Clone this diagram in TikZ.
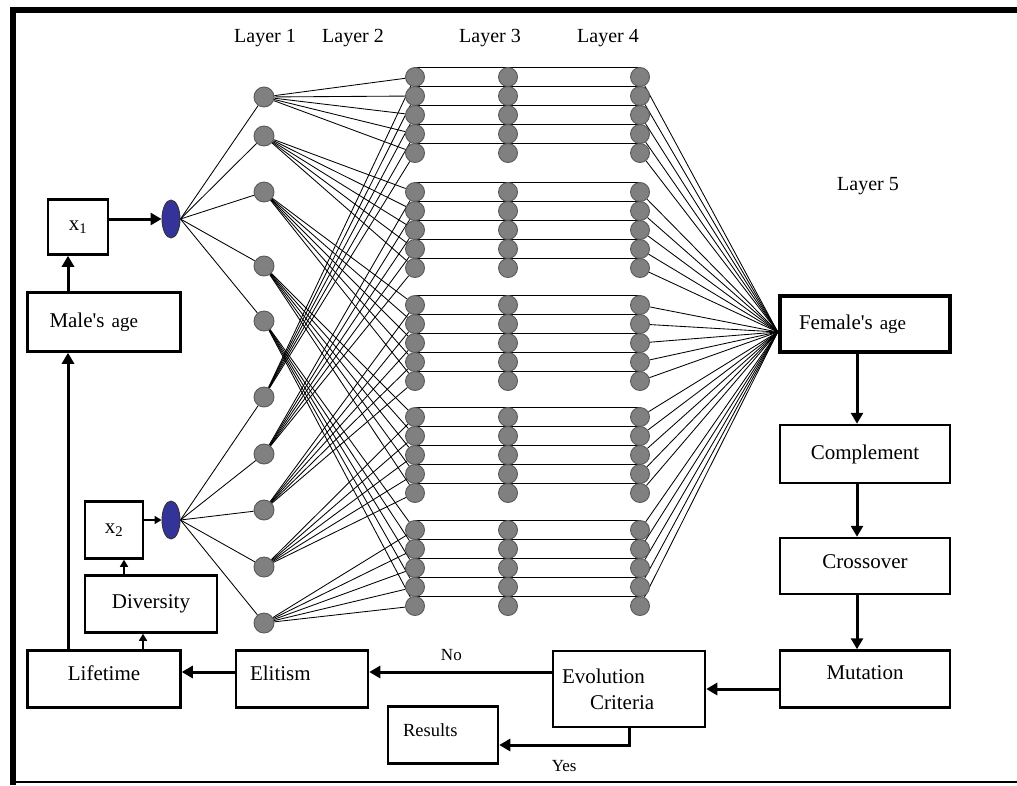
\documentclass[tikz,border=0pt]{standalone}
\usepackage{fontspec}
\setmainfont{Liberation Serif}
\usetikzlibrary{arrows.meta,shapes.geometric,positioning,backgrounds}

\definecolor{inputblue}{RGB}{51,51,153}
\newcommand{\blockfont}{\fontsize{21}{23}\selectfont}
\newcommand{\layerfont}{\fontsize{20}{22}\selectfont}
\newcommand{\notefont}{\fontsize{17}{19}\selectfont}
\newcommand{\agefont}{\fontsize{19}{21}\selectfont}

\begin{document}
\begin{tikzpicture}[x=1pt,y=-1pt,>={Triangle[length=11pt,width=12pt]},
  unit node/.style={circle,fill=gray,draw=black!65,line width=0.9pt,minimum size=19pt,inner sep=0pt},
  input node/.style={ellipse,fill=inputblue,draw=black!80,line width=0.9pt,minimum width=18pt,minimum height=38pt,inner sep=0pt},
  block/.style={rectangle,draw,line width=2.5pt,inner sep=0pt,font=\blockfont},
  layer label/.style={font=\layerfont},
  link/.style={line width=0.85pt},
  flow/.style={->,line width=3pt},
  thin flow/.style={-{Triangle[length=7pt,width=8pt]},line width=1.5pt}]

  \useasboundingbox (0,0) rectangle (1017,785);
  % frame
  \draw[line width=6pt] (1017,10) -- (13,10) -- (13,785);
  \draw[line width=2pt] (13,782) -- (1017,782);

  % layer titles
  \node[layer label] (lab1) at (265,38) {Layer 1};
  \node[layer label] (lab2) at (353,38) {Layer 2};
  \node[layer label] (lab3) at (490,38) {Layer 3};
  \node[layer label] (lab4) at (608,38) {Layer 4};
  \node[layer label] (lab5) at (868,186) {Layer 5};

  % inputs
  \node[block,minimum width=60pt,minimum height=55pt] (x1) at (78,227) {x\textsubscript{1}};
  \node[input node] (in1) at (171,219) {};
  \node[block,minimum width=58pt,minimum height=57pt] (x2) at (114,530) {x\textsubscript{2}};
  \node[input node] (in2) at (171,520) {};

  % layer 1
  \foreach \k/\y in {1/97,2/136,3/192,4/266,5/321,6/397,7/454,8/510,9/567,10/623}
    \node[unit node,minimum size=20pt] (m\k) at (264,\y) {};

  % layers 2, 3, 4
  \foreach \g/\y in {1/77,2/192,3/305,4/417,5/530}
    \foreach \j in {1,...,5} {
      \node[unit node] (a\g\j) at (415,{\y+19*(\j-1)}) {};
      \node[unit node] (b\g\j) at (508,{\y+19*(\j-1)}) {};
      \node[unit node] (c\g\j) at (640,{\y+19*(\j-1)}) {};
    }

  % blocks
  \node[block,line width=4.5pt,text width=132pt,inner xsep=19pt,minimum height=56pt,align=left] (fem) at (865,324) {Female\textquotesingle s {\agefont age}};
  \node[block,minimum width=170pt,minimum height=58pt] (comp) at (865,454) {Complement};
  \node[block,minimum width=170pt,minimum height=56pt,text depth=8pt] (cross) at (865,566) {Crossover};
  \node[block,minimum width=170pt,minimum height=57pt,text depth=12pt] (mut) at (865,679) {Mutation};
  \node[block,text width=134pt,inner xsep=9pt,minimum height=76pt,align=left] (evo) at (629,689) {Evolution\\[3pt]\hspace*{28pt}Criteria};
  \node[block,text width=80pt,inner xsep=15pt,minimum height=57pt,align=left,font=\fontsize{18.5}{20}\selectfont,text depth=10pt] (res) at (443,735) {Results};
  \node[block,text width=104pt,inner xsep=14pt,minimum height=57pt,align=left,text depth=12pt] (elit) at (302,679) {Elitism};
  \node[block,minimum width=153pt,minimum height=57pt,text depth=12pt] (life) at (104,679) {Lifetime};
  \node[block,minimum width=132pt,minimum height=57pt] (div) at (151,604) {Diversity};
  \node[block,text width=109pt,inner xsep=22pt,minimum height=59pt,align=left] (male) at (104,322) {Male\textquotesingle s {\agefont age}};

  \coordinate (fin) at ([yshift=-8pt]fem.west);

  % network links
  \begin{pgfonlayer}{background}
    \foreach \k [evaluate=\k as \kk using int(\k+5)] in {1,...,5} {
      \draw[link] (in1.east) -- (m\k);
      \draw[link] (in2.east) -- (m\kk);
    }
    \foreach \g [evaluate=\g as \h using int(\g+5)] in {1,...,5}
      \foreach \j in {1,...,5} {
        \draw[link] (m\g) -- (a\g\j);
        \draw[link] (m\h) -- (a\g\j);
        \draw[link] (a\g\j.north) -- (b\g\j.north);
        \draw[link] (b\g\j.north) -- (c\g\j.north);
        \draw[link] (c\g\j) -- (fin);
      }
  \end{pgfonlayer}

  % flow of the algorithm
  \coordinate (nopt) at ([yshift=7pt]elit.east);
  \coordinate (lpt) at ([yshift=7pt]life.east);
  \coordinate (rpt) at ([yshift=-10pt]res.east);
  \coordinate (mpt) at ([xshift=-10pt]x1.south);
  \coordinate (dpt) at ([xshift=-8pt]div.south);
  \coordinate (xpt) at ([xshift=10pt]x2.south);

  \draw[flow] (x1.east |- in1) -- (in1);
  \draw[thin flow] (x2.east |- in2) -- (in2);
  \draw[flow] ([xshift=-8pt]fem.south) -- ([xshift=-8pt]comp.north);
  \draw[flow] ([xshift=-8pt]comp.south) -- ([xshift=-8pt]cross.north);
  \draw[flow] ([xshift=-8pt]cross.south) -- ([xshift=-8pt]mut.north);
  \draw[flow] (mut.west |- evo.east) -- (evo.east);
  \draw[flow] (nopt -| evo.west) -- (nopt) node[pos=0.55,above=7pt,font=\notefont] (no) {No};
  \draw[flow] (evo.south) |- (rpt) node[pos=0.75,below=11pt,font=\notefont] (yes) {Yes};
  \draw[flow] (elit.west |- lpt) -- (lpt);
  \draw[flow] (mpt |- life.north) -- (mpt |- male.south);
  \draw[flow] (mpt |- male.north) -- (mpt);
  \draw[thin flow] (dpt |- life.north) -- (dpt);
  \draw[thin flow] (xpt |- div.north) -- (xpt);
\end{tikzpicture}
\end{document}
